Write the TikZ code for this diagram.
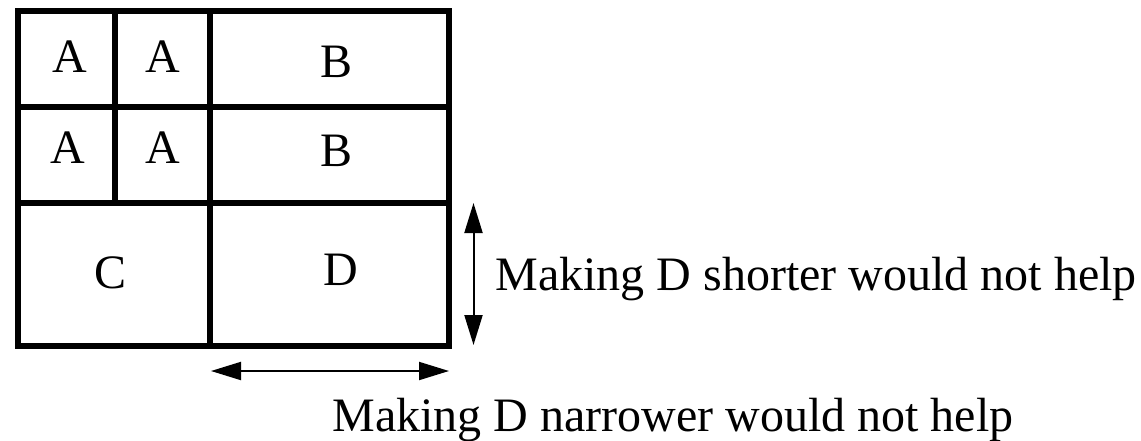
\documentclass[tikz,border=0pt]{standalone}
\usepackage{fontspec}
\setmainfont{Liberation Serif}
\usetikzlibrary{arrows.meta}
\tikzset{
  blk/.style={black, line width=3pt},
  cell/.style={anchor=base, inner sep=0pt, font=\fontsize{24}{28}\selectfont},
  note/.style={anchor=base west, inner sep=0pt, font=\fontsize{24}{28}\selectfont},
  dim/.style={black, line width=1pt, <->, >={Triangle[length=15pt,width=9pt]}}
}
\begin{document}
\begin{tikzpicture}[x=0.5pt, y=-0.5pt]
\useasboundingbox (0,0) rectangle (1141,440);
% the blocks
\draw[blk] (18,11) rectangle (449,346);
\draw[blk] (18,106.5)--(449,106.5) (18,202.5)--(449,202.5);
\draw[blk] (114.5,11)--(114.5,202.5) (210,11)--(210,346);
% block names
\foreach \x/\y/\n in {70/72/a1, 163/72/a2, 68/163/a3, 163/163/a4} {
 \node[cell] (\n) at (\x,\y) {A};
}
\node[cell] (b1) at (336.5,77) {B};
\node[cell] (b2) at (336.5,166.5) {B};
\node[cell] (c) at (110.5,288) {C};
\node[cell] (d) at (341,285) {D};
% size arrows for D
\coordinate (dtop) at (473.5,203);
\coordinate (dbot) at (473.5,345);
\coordinate (dleft) at (211,371);
\coordinate (dright) at (449,371);
\draw[dim] (dtop)--(dbot);
\draw[dim] (dleft)--(dright);
\node[note] (shorter) at (495,290) {Making D shorter would not help};
\node[note] (narrower) at (332,431) {Making D narrower would not help};
\end{tikzpicture}
\end{document}
